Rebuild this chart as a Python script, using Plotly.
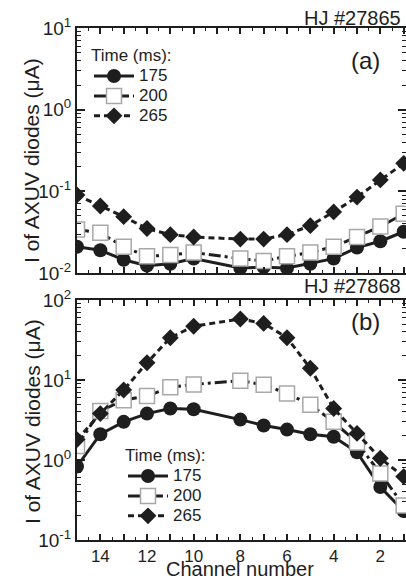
import plotly.graph_objects as go

# ---------------- data ----------------
channels = [15, 14, 13, 12, 11, 10, 8, 7, 6, 5, 4, 3, 2, 1]

# shot HJ #27865 (panel a)
a_175 = [0.021, 0.019, 0.0145, 0.0123, 0.013, 0.015, 0.0115, 0.0118, 0.0115, 0.013, 0.015, 0.0205, 0.0245, 0.032]
a_200 = [0.034, 0.031, 0.021, 0.016, 0.0166, 0.0178, 0.015, 0.014, 0.016, 0.0178, 0.021, 0.0276, 0.037, 0.053]
a_265 = [0.090, 0.066, 0.049, 0.035, 0.0295, 0.0276, 0.026, 0.026, 0.0295, 0.038, 0.056, 0.085, 0.138, 0.22]

# shot HJ #27868 (panel b)
b_175 = [0.83, 2.1, 3.0, 3.8, 4.4, 4.3, 3.2, 2.7, 2.4, 2.1, 1.95, 1.25, 0.46, 0.23]
b_200 = [1.5, 4.1, 5.6, 6.3, 8.1, 8.8, 9.8, 8.7, 6.8, 4.9, 3.0, 1.65, 0.68, 0.27]
b_265 = [1.8, 3.8, 7.5, 16.4, 33.8, 47, 57.9, 51, 33.8, 14, 4.4, 2.15, 1.05, 0.62]

times = ["175", "200", "265"]
x_tick_vals = list(range(1, 16))
x_tick_text = ["2", "4", "6", "8", "10", "12", "14"]

W, H = 406, 581
FONT = "Liberation Sans, Arial, sans-serif"
INK = "#1e1e1e"

styles = {
    "175": dict(line=dict(color=INK, width=3, dash="solid"),
                marker=dict(symbol="circle", size=14, color=INK)),
    "200": dict(line=dict(color=INK, width=3, dash="12px,4px,3px,4px"),
                marker=dict(symbol="square", size=15, color="white",
                            line=dict(color="#a8a8a8", width=1.5))),
    "265": dict(line=dict(color=INK, width=3, dash="6px,4px"),
                marker=dict(symbol="diamond", size=13, color=INK)),
}

def leg_name(t):
    return "<span style='font-size:17px'>%s</span>" % t

fig = go.Figure()
for t, ys in zip(times, [a_175, a_200, a_265]):
    fig.add_trace(go.Scatter(x=channels, y=ys, mode="lines+markers", name=leg_name(t),
                             xaxis="x", yaxis="y", legend="legend", **styles[t]))
for t, ys in zip(times, [b_175, b_200, b_265]):
    fig.add_trace(go.Scatter(x=channels, y=ys, mode="lines+markers", name=leg_name(t),
                             xaxis="x2", yaxis="y2", legend="legend2", **styles[t]))

def px_y(y):
    return 1 - y / H

def px_x(x):
    return x / W

xdom = [px_x(77), 1.0]
ydom_a = [px_y(273), px_y(28)]
ydom_b = [px_y(540), px_y(300)]

half_ticks = [c + 0.5 for c in range(1, 15)]

def xaxis_cfg(anchor, labels):
    text = []
    for v in x_tick_vals:
        text.append(str(v) if (labels and str(v) in x_tick_text) else "")
    return dict(domain=xdom, anchor=anchor, range=[15, 0.9],
                tickmode="array", tickvals=x_tick_vals, ticktext=text,
                ticks="inside", ticklen=6, tickwidth=1.5, tickcolor=INK,
                minor=dict(tickmode="array", tickvals=half_ticks, ticks="inside",
                           ticklen=3, tickwidth=1.2, tickcolor=INK, showgrid=False),
                showline=True, linewidth=2, linecolor=INK, mirror="ticks",
                showgrid=False, zeroline=False, automargin=False,
                tickfont=dict(family=FONT, size=17, color=INK))

def minor_logs(lo, hi):
    vals = []
    for e in range(lo, hi):
        for m in range(2, 10):
            vals.append(m * 10 ** e)
    return vals

def sup(e):
    return "10<sup>%d</sup>" % e

def yaxis_cfg(anchor, dom, lo, hi):
    tv = [10 ** e for e in range(lo, hi + 1)]
    tt = [sup(e) for e in range(lo, hi + 1)]
    return dict(domain=dom, anchor=anchor, type="log", range=[lo, hi],
                tickmode="array", tickvals=tv, ticktext=tt,
                ticks="inside", ticklen=8, tickwidth=1.5, tickcolor=INK,
                minor=dict(tickmode="array", tickvals=minor_logs(lo, hi), ticks="inside",
                           ticklen=4, tickwidth=1.2, tickcolor=INK, showgrid=False),
                showline=True, linewidth=2, linecolor=INK, mirror="ticks",
                showgrid=False, zeroline=False, automargin=False,
                tickfont=dict(family=FONT, size=19, color=INK))

leg_common = dict(xanchor="left", yanchor="top", bgcolor="rgba(0,0,0,0)",
                  font=dict(family=FONT, size=13, color=INK),
                  title=dict(font=dict(family=FONT, size=17, color=INK)),
                  itemwidth=40, tracegroupgap=0)

fig.update_layout(
    width=W, height=H,
    margin=dict(l=0, r=0, t=0, b=0),
    paper_bgcolor="white", plot_bgcolor="white",
    font=dict(family=FONT, color=INK),
    showlegend=True,
    xaxis=xaxis_cfg("y", False),
    yaxis=yaxis_cfg("x", ydom_a, -2, 1),
    xaxis2=xaxis_cfg("y2", True),
    yaxis2=yaxis_cfg("x2", ydom_b, -1, 2),
    legend=dict(x=px_x(89), y=px_y(39), title_text="Time (ms):", **leg_common),
    legend2=dict(x=px_x(123), y=px_y(439), title_text="Time (ms):", **leg_common),
)

ann = [
    dict(text="HJ #27865", x=px_x(403), y=px_y(18), xanchor="right", yanchor="middle",
         font=dict(size=20)),
    dict(text="HJ #27868", x=px_x(403), y=px_y(286), xanchor="right", yanchor="middle",
         font=dict(size=20)),
    dict(text="(a)", x=px_x(365), y=px_y(61), xanchor="center", yanchor="middle",
         font=dict(size=24)),
    dict(text="(b)", x=px_x(365), y=px_y(321), xanchor="center", yanchor="middle",
         font=dict(size=24)),
    dict(text="I of AXUV diodes (\u03bcA)", x=px_x(31), y=px_y(161), textangle=-90,
         xanchor="center", yanchor="middle", font=dict(size=21)),
    dict(text="I of AXUV diodes (\u03bcA)", x=px_x(32), y=px_y(422), textangle=-90,
         xanchor="center", yanchor="middle", font=dict(size=21)),
    dict(text="Channel number", x=px_x(240), y=px_y(569), xanchor="center",
         yanchor="middle", font=dict(size=20)),
]
for a in ann:
    a.update(xref="paper", yref="paper", showarrow=False)
    a["font"].update(family=FONT, color=INK)
fig.update_layout(annotations=ann)

fig.write_html("out.html",
               config={"displayModeBar": False},
               post_script="document.body.style.margin='0';document.body.style.padding='0';")
